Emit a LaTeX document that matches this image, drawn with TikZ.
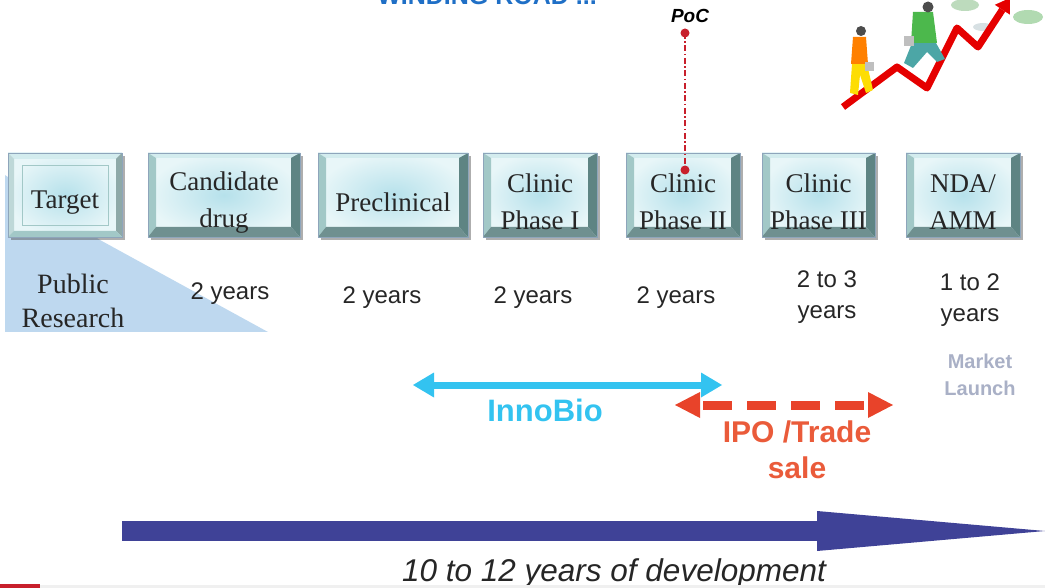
\documentclass[tikz,border=0pt]{standalone}
\usepackage{fontspec}
\setmainfont{Liberation Serif}
\setsansfont{Liberation Sans}
\usepackage{tikz}
\usetikzlibrary{arrows.meta,positioning,calc,shadows}
\definecolor{facein}{HTML}{B6E1EB}
\definecolor{faceout}{HTML}{E8F6F8}
\definecolor{bevtop}{HTML}{D3ECEE}
\definecolor{bevleft}{HTML}{A2C8C7}
\definecolor{bevright}{HTML}{5E8483}
\definecolor{bevbot}{HTML}{6F9090}
\definecolor{boxedge}{HTML}{8EA5BB}
\definecolor{public}{HTML}{BED8EF}
\definecolor{pocred}{HTML}{C8202C}
\definecolor{inno}{HTML}{33C3F0}
\definecolor{ipo}{HTML}{E8432A}
\definecolor{ipotext}{HTML}{EA5B3A}
\definecolor{launch}{HTML}{A9B0C6}
\definecolor{devblue}{HTML}{3F4297}
\definecolor{titleblue}{HTML}{1F6FC6}
% pushes the box labels a little below the middle
\newcommand\boxstrut{\rule{0pt}{33pt}}

\begin{document}
\begin{tikzpicture}[x=1pt,y=-1pt,>=Latex,
  stagebox/.style={minimum height=84pt,inner sep=0pt,align=center,
    font=\fontsize{27}{37}\selectfont,text=black!85,
    inner color=facein,outer color=faceout,draw=boxedge,
    drop shadow={shadow xshift=3pt,shadow yshift=-3pt,opacity=.45,fill=black!70}},
  corners/.code={\path (path picture bounding box.north west) coordinate (bnw)
      (path picture bounding box.north east) coordinate (bne)
      (path picture bounding box.south west) coordinate (bsw)
      (path picture bounding box.south east) coordinate (bse);},
  raised/.style={path picture={
    \tikzset{corners}
    \fill[bevtop] (bnw) -- (bne) -- ($(bne)+(-9,5)$) -- ($(bnw)+(8,5)$) -- cycle;
    \fill[bevleft] (bnw) -- (bsw) -- ($(bsw)+(8,-10)$) -- ($(bnw)+(8,5)$) -- cycle;
    \fill[bevright] (bne) -- (bse) -- ($(bse)+(-9,-10)$) -- ($(bne)+(-9,5)$) -- cycle;
    \fill[bevbot] (bsw) -- (bse) -- ($(bse)+(-9,-10)$) -- ($(bsw)+(8,-10)$) -- cycle;}},
  pressed/.style={path picture={
    \tikzset{corners}
    \fill[bevtop] (bnw) -- (bne) -- ($(bne)+(-6,6)$) -- ($(bnw)+(6,6)$) -- cycle;
    \fill[bevleft!70!white] (bnw) -- (bsw) -- ($(bsw)+(6,-6)$) -- ($(bnw)+(6,6)$) -- cycle;
    \fill[bevright!70!white] (bne) -- (bse) -- ($(bse)+(-6,-6)$) -- ($(bne)+(-6,6)$) -- cycle;
    \fill[bevleft] (bsw) -- (bse) -- ($(bse)+(-6,-6)$) -- ($(bsw)+(6,-6)$) -- cycle;
    \draw[bevleft] ($(bnw)+(14,12)$) rectangle ($(bse)+(-14,-12)$);}},
  years/.style={font=\sffamily\fontsize{24}{31}\selectfont,align=center,text=black!85}]
  \clip (0,0) rectangle (1045,588);

  % title, mostly cut off at the top
  \node[anchor=base,font=\sffamily\bfseries\fontsize{25}{30}\selectfont,text=titleblue] (title) at (487,5) {WINDING ROAD ...};

  % public research wedge
  \fill[public] (5,175) -- (100,240) -- (268,332) -- (5,332) -- cycle;
  \node[font=\fontsize{28}{34}\selectfont,align=center,text=black!85] (pub) at (73,301) {Public\\Research};

  % stages
  \node[stagebox,pressed,minimum width=114pt] (tgt) at (65,195) {\boxstrut Target};
  \node[stagebox,raised,minimum width=152pt] (cand) at (224,195) {\boxstrut Candidate\\drug};
  \node[stagebox,raised,minimum width=150pt] (precl) at (393,195) {\boxstrut Preclinical};
  \node[stagebox,raised,minimum width=114pt] (ph1) at (540,195) {\boxstrut Clinic\\Phase I};
  \node[stagebox,raised,minimum width=114pt] (ph2) at (683,195) {\boxstrut Clinic\\Phase II};
  \node[stagebox,raised,minimum width=113pt] (ph3) at (818.5,195) {\boxstrut Clinic\\Phase III};
  \node[stagebox,raised,minimum width=114pt] (nda) at (963,195) {\boxstrut NDA/\\AMM};

  % durations
  \node[years] (y1) at (230,294) {2 years};
  \node[years] (y2) at (382,298) {2 years};
  \node[years] (y3) at (533,298) {2 years};
  \node[years] (y4) at (676,298) {2 years};
  \node[years] (y5) at (827,297) {2 to 3\\years};
  \node[years] (y6) at (970,300) {1 to 2\\years};
  \node[font=\sffamily\bfseries\fontsize{20}{27}\selectfont,align=center,text=launch] (launch) at (980,375) {Market\\Launch};

  % proof of concept marker
  \node[font=\sffamily\bfseries\itshape\fontsize{19}{22}\selectfont] (poc) at (690,16) {PoC};
  \coordinate (poctop) at (685,33);
  \coordinate (pocbot) at (685,170);
  \draw[pocred,line width=1.3pt,dash pattern=on 6pt off 2.5pt on 1.5pt off 2.5pt] (poctop) -- (pocbot);
  \fill[pocred] (poctop) circle (4.5);
  \fill[pocred] (pocbot) circle (4.5);

  % financing windows
  \coordinate (ibl) at (413,385);
  \coordinate (ibr) at (722,385);
  \draw[inno,line width=7pt,{Triangle[length=21pt,width=25pt,line width=0pt]}-{Triangle[length=21pt,width=25pt,line width=0pt]}] (ibl) -- (ibr);
  \node[font=\sffamily\bfseries\fontsize{31}{36}\selectfont,text=inno] (ib) at (545,410) {InnoBio};

  \coordinate (ipol) at (675,405);
  \coordinate (ipor) at (893,405);
  \draw[ipo,line width=9pt,dash pattern=on 29pt off 15pt,dash phase=-3pt,{Triangle[length=25pt,width=26pt,line width=0pt]}-{Triangle[length=25pt,width=26pt,line width=0pt]}] (ipol) -- (ipor);
  \node[font=\sffamily\bfseries\fontsize{30}{36}\selectfont,align=center,text=ipotext] (ipot) at (797,450) {IPO /Trade\\sale};

  % overall time line
  \coordinate (devl) at (122,531);
  \coordinate (devr) at (1045,531);
  \draw[devblue,line width=20pt,-{Triangle[length=228pt,width=40pt,line width=0pt]}] (devl) -- (devr);
  \node[font=\sffamily\itshape\fontsize{31.5}{34}\selectfont,text=black!85] (dev) at (614,573) {10 to 12 years of development};

  % foot rule
  \fill[black!6] (40,585) rectangle (1045,588);
  \fill[pocred] (0,584) rectangle (40,588);

  % climbers on the rising curve
  \fill[green!30!gray!40] (965,5) ellipse (14 and 6);
  \fill[green!35!gray!45] (1028,17) ellipse (15 and 7);
  \fill[cyan!20!gray!30] (983,27) ellipse (10 and 4);
  \draw[red!90!black,line width=7pt,line join=round,-{Triangle[length=14pt,width=18pt,line width=0pt]}] (843,107) -- (897,67) -- (927,88) -- (957,28) -- (978,47) -- (1010,-2);
  \fill[yellow!80!orange] (852,64) -- (867,64) -- (873,90) -- (866,93) -- (860,75) -- (858,95) -- (850,93) -- cycle;
  \fill[orange] (853,37) -- (866,37) -- (868,64) -- (851,64) -- cycle;
  \fill[black!70] (861,31) circle (5);
  \fill[gray!50] (865,62) rectangle (874,71);
  \fill[teal!70] (912,43) -- (936,43) -- (945,59) -- (937,62) -- (927,52) -- (913,68) -- (904,63) -- cycle;
  \fill[green!60!black!70] (913,12) -- (933,12) -- (937,43) -- (911,43) -- cycle;
  \fill[black!70] (928,7) circle (5.5);
  \fill[gray!50] (904,36) rectangle (914,46);
\end{tikzpicture}
\end{document}
